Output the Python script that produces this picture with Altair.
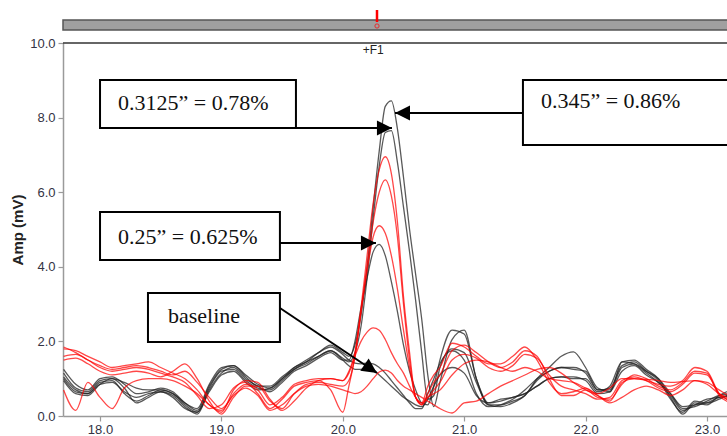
import altair as alt
import pandas as pd

# ---- shared time grid (s) ----
T = [17.7, 17.8, 17.9, 18.0, 18.1, 18.2, 18.3, 18.4, 18.5, 18.6, 18.7, 18.8,
     18.9, 19.0, 19.1, 19.2, 19.3, 19.4, 19.5, 19.6, 19.7, 19.8, 19.9, 20.0,
     20.05, 20.1, 20.15, 20.2, 20.25, 20.3, 20.35, 20.4, 20.45, 20.5, 20.55, 20.6,
     20.65, 20.7, 20.75, 20.8,
     20.9, 21.0, 21.1, 21.2, 21.3, 21.4, 21.5, 21.6, 21.7, 21.8, 21.9, 22.0,
     22.1, 22.2, 22.3, 22.4, 22.5, 22.6, 22.7, 22.8, 22.9, 23.0, 23.1, 23.2]

# ---- black traces (mV) ----
B1 = [1.25, 0.85, 0.7, 1.0, 1.05, 0.85, 0.6, 0.65, 0.75, 0.65, 0.35, 0.2,
      0.85, 1.3, 1.35, 1.1, 0.85, 0.75, 1.0, 1.3, 1.45, 1.7, 1.9, 1.7,
      1.6, 1.9, 2.7, 4.0, 5.6, 7.1, 8.3, 8.45, 7.7, 6.4, 5.0, 3.8, 2.6, 1.1, 0.25, 0.9,
      2.05, 2.3, 1.0, 0.3, 0.3, 0.4, 0.55, 1.0, 1.3, 1.6, 1.72, 1.3,
      0.75, 0.65, 1.45, 1.5, 1.25, 1.0, 0.5, 0.05, 0.35, 0.3, 0.55, 0.7]
B2 = [1.05, 0.7, 0.6, 0.9, 0.95, 0.6, 0.4, 0.55, 0.7, 0.6, 0.3, 0.1,
      0.75, 1.2, 1.25, 0.95, 0.75, 0.7, 0.95, 1.25, 1.4, 1.6, 1.75, 1.55,
      1.45, 1.7, 2.4, 3.7, 5.3, 6.7, 7.6, 7.65, 6.8, 5.6, 4.4, 3.1, 1.7, 0.45, 0.55, 1.3,
      1.8, 1.7, 0.9, 0.3, 0.25, 0.35, 0.55, 0.95, 1.2, 1.3, 1.25, 1.2,
      0.7, 0.75, 1.35, 1.45, 1.2, 0.95, 0.45, 0.1, 0.4, 0.35, 0.45, 0.6]
B3 = [0.95, 0.6, 0.55, 0.85, 1.0, 0.75, 0.35, 0.5, 0.65, 0.55, 0.25, 0.05,
      0.7, 1.15, 1.3, 1.0, 0.8, 0.65, 0.9, 1.2, 1.35, 1.55, 1.7, 1.5,
      1.5, 2.0, 2.9, 3.7, 4.4, 4.6, 4.3, 3.6, 2.8, 1.9, 1.2, 0.7, 0.35, 0.3, 0.8, 1.5,
      2.3, 2.2, 1.0, 0.35, 0.45, 0.5, 0.6, 0.8, 1.0, 1.05, 1.0, 1.0,
      0.65, 0.8, 1.45, 1.4, 1.15, 0.9, 0.55, 0.15, 0.3, 0.45, 0.5, 0.55]
B4 = [1.15, 0.75, 0.65, 0.95, 1.0, 0.9, 0.75, 0.7, 0.7, 0.6, 0.35, 0.15,
      0.8, 1.25, 1.35, 1.05, 0.8, 0.8, 1.05, 1.3, 1.5, 1.7, 1.85, 1.65,
      1.5, 1.42, 1.4, 1.42, 1.4, 1.3, 1.15, 0.95, 0.75, 0.55, 0.35, 0.2, 0.2, 0.6, 1.0, 1.4,
      1.75, 1.5, 0.6, 0.25, 0.3, 0.45, 0.7, 1.0, 1.2, 1.3, 1.3, 1.15,
      0.7, 0.7, 1.3, 1.4, 1.2, 1.0, 0.6, 0.2, 0.25, 0.4, 0.55, 0.6]
B5 = [1.0, 0.65, 0.6, 0.85, 0.9, 0.65, 0.5, 0.6, 0.65, 0.5, 0.2, 0.1,
      0.65, 1.1, 1.2, 0.9, 0.7, 0.75, 1.0, 1.25, 1.45, 1.6, 1.75, 1.5,
      1.35, 1.25, 1.25, 1.3, 1.25, 1.1, 0.95, 0.8, 0.65, 0.5, 0.4, 0.3, 0.25, 0.45, 0.8, 1.1,
      1.3, 1.15, 0.55, 0.35, 0.4, 0.5, 0.6, 0.8, 1.0, 1.05, 1.05, 0.95,
      0.6, 0.65, 1.2, 1.35, 1.1, 0.9, 0.6, 0.25, 0.3, 0.35, 0.5, 0.55]

# ---- red traces (mV) ----
R1 = [1.8, 1.75, 1.6, 1.45, 1.3, 1.35, 1.4, 1.45, 1.3, 1.15, 1.0, 0.7,
      0.3, 0.15, 0.6, 0.85, 0.7, 0.3, 0.5, 0.85, 0.95, 1.0, 1.0, 0.95,
      1.2, 1.7, 2.9, 4.3, 5.7, 6.6, 6.95, 6.5, 5.2, 3.2, 1.7, 0.5, 0.35, 0.8, 1.1, 1.3,
      1.95, 1.85, 1.6, 1.4, 1.4, 1.6, 1.85, 1.5, 0.9, 0.6, 0.65, 0.75,
      0.55, 0.4, 0.9, 1.0, 0.95, 0.85, 0.8, 0.95, 1.3, 1.2, 0.6, 0.4]
R2 = [1.6, 1.65, 1.5, 1.3, 1.2, 1.25, 1.3, 1.25, 1.15, 1.05, 0.9, 0.55,
      0.2, 0.3, 0.75, 0.9, 0.6, 0.2, 0.45, 0.8, 0.9, 0.95, 0.7, 0.1,
      0.8, 1.6, 2.8, 4.0, 5.2, 6.0, 6.33, 5.9, 4.8, 3.0, 1.5, 0.5, 0.3, 0.6, 0.9, 1.1,
      1.75, 1.9, 1.7, 1.45, 1.3, 1.45, 1.75, 1.6, 1.0, 0.55, 0.55, 0.7,
      0.5, 0.45, 0.85, 1.1, 1.0, 0.8, 0.7, 0.9, 1.2, 1.15, 0.55, 0.35]
R3 = [1.5, 1.55, 1.4, 1.2, 1.1, 1.15, 1.2, 1.15, 1.05, 1.2, 1.4, 1.0,
      0.4, 0.05, 0.5, 0.8, 0.8, 0.4, 0.2, 0.6, 0.85, 0.9, 0.85, 0.8,
      0.95, 1.6, 2.8, 3.9, 4.8, 5.1, 4.9, 4.3, 3.4, 2.3, 1.3, 0.5, 0.3, 0.5, 0.7, 0.9,
      1.5, 1.65, 1.55, 1.3, 1.2, 1.35, 1.65, 1.55, 1.1, 0.8, 0.7, 0.6,
      0.45, 0.5, 0.95, 1.05, 0.95, 0.75, 0.65, 0.85, 1.15, 1.1, 0.6, 0.4]
R4 = [0.7, 0.15, 0.9, 0.5, 0.2, 0.75, 0.95, 1.0, 1.0, 0.95, 0.8, 0.6,
      0.3, 0.1, 0.7, 0.95, 0.9, 0.45, 0.15, 0.4, 0.75, 0.95, 1.0, 0.95,
      1.15, 1.6, 2.0, 2.25, 2.36, 2.3, 2.05, 1.7, 1.4, 1.15, 0.8, 0.5, 0.35, 0.5, 0.6, 0.7,
      1.1, 1.4, 1.5, 1.45, 1.3, 1.2, 1.3, 1.2, 1.0, 0.95, 0.9, 0.75,
      0.6, 0.75, 1.0, 1.0, 0.98, 0.95, 0.9, 0.92, 0.95, 0.9, 0.7, 0.5]
R5 = [1.85, 1.7, 1.5, 1.35, 1.25, 1.3, 1.35, 1.3, 1.2, 1.1, 1.2, 0.9,
      0.5, 0.2, 0.55, 0.75, 0.55, 0.15, 0.3, 0.6, 0.8, 0.85, 0.8, 0.7,
      0.65, 0.6, 0.65, 0.8, 1.0, 1.18, 1.23, 1.15, 0.95, 0.8, 0.7, 0.6, 0.5, 0.4, 0.3, 0.2,
      0.08, 0.35, 0.4, 0.6, 0.8, 0.95, 1.1, 1.25, 1.3, 1.15, 0.9, 0.7,
      0.55, 0.35, 0.5, 0.7, 0.8, 0.7, 0.55, 0.7, 0.95, 0.85, 0.6, 0.45]

TRACES = {"B1": ("black", B1), "B2": ("black", B2), "B3": ("black", B3),
          "B4": ("black", B4), "B5": ("black", B5),
          "R1": ("red", R1), "R2": ("red", R2), "R3": ("red", R3),
          "R4": ("red", R4), "R5": ("red", R5)}

# ---- annotations (data units) ----
BOX_LABELS = ["0.3125\u201d = 0.78%", "0.345\u201d = 0.86%", "0.25\u201d = 0.625%", "baseline"]
BOX_X1 = [18.0, 21.484, 18.0, 18.395]
BOX_X2 = [19.614, 23.2, 19.482, 19.482]
BOX_Y1 = [7.721, 7.265, 4.182, 1.984]
BOX_Y2 = [9.008, 9.008, 5.469, 3.298]
TXT_X = [18.148, 21.632, 18.148, 18.56]
TXT_Y = [8.204, 8.257, 4.611, 2.493]
ARR_X1 = [19.614, 21.484, 19.482, 19.482]
ARR_Y1 = [7.721, 8.123, 4.638, 2.895]
ARR_X2 = [20.405, 20.43, 20.273, 20.281]
ARR_Y2 = [7.721, 8.123, 4.638, 1.153]
ARR_ANG = [0, 180, 0, 34]

rows = []
for name, (grp, vals) in TRACES.items():
    for t, v in zip(T, vals):
        rows.append({"t": t, "v": v, "trace": name, "grp": grp})
df = pd.DataFrame(rows)

xscale = alt.Scale(domain=[17.695, 23.165], nice=False, zero=False)
yscale = alt.Scale(domain=[0, 10], nice=False, zero=True)
FONT = "Liberation Sans"

lines = alt.Chart(df).mark_line(interpolate="monotone", clip=True, strokeWidth=1.3).encode(
    x=alt.X("t:Q", scale=xscale,
            axis=alt.Axis(values=[18, 19, 20, 21, 22, 23], format=".1f", title=None,
                          grid=False, domainColor="#9a9a9a", domainWidth=1.5,
                          tickColor="#9a9a9a", tickSize=5, tickWidth=1.2,
                          labelFont=FONT, labelFontSize=13, labelColor="#333344",
                          labelPadding=2)),
    y=alt.Y("v:Q", scale=yscale,
            axis=alt.Axis(values=[0, 2, 4, 6, 8, 10], format=".1f", title="Amp (mV)",
                          grid=False, domainColor="#9a9a9a", domainWidth=1.5,
                          tickColor="#9a9a9a", tickSize=5, tickWidth=1.2,
                          labelFont=FONT, labelFontSize=13, labelColor="#333344",
                          labelPadding=3, titleFont=FONT, titleFontSize=15,
                          titleFontWeight="bold", titleColor="#222222",
                          titlePadding=4)),
    detail="trace:N",
    color=alt.Color("grp:N", scale=alt.Scale(domain=["black", "red"],
                                             range=["#222222", "#ff0000"]), legend=None),
    opacity=alt.Opacity("grp:N", scale=alt.Scale(domain=["black", "red"],
                                                 range=[0.75, 0.72]), legend=None),
    order="t:Q",
)

boxes_df = pd.DataFrame({"x1": BOX_X1, "x2": BOX_X2, "y1": BOX_Y1, "y2": BOX_Y2})
boxes = alt.Chart(boxes_df).mark_rect(fill="white", stroke="black", strokeWidth=2).encode(
    x=alt.X("x1:Q", scale=xscale), x2="x2:Q",
    y=alt.Y("y1:Q", scale=yscale), y2="y2:Q")

txt_df = pd.DataFrame({"x": TXT_X, "y": TXT_Y, "label": BOX_LABELS})
texts = alt.Chart(txt_df).mark_text(font="Liberation Serif", fontSize=22, align="left",
                                    baseline="alphabetic", color="#111111").encode(
    x=alt.X("x:Q", scale=xscale), y=alt.Y("y:Q", scale=yscale), text="label:N")

arr_df = pd.DataFrame({"x1": ARR_X1, "y1": ARR_Y1, "x2": ARR_X2, "y2": ARR_Y2, "ang": ARR_ANG})
arr_lines = alt.Chart(arr_df).mark_rule(color="black", strokeWidth=2).encode(
    x=alt.X("x1:Q", scale=xscale), y=alt.Y("y1:Q", scale=yscale), x2="x2:Q", y2="y2:Q")
heads = alt.Chart(arr_df).mark_point(shape="M0,0L-1,-0.5L-1,0.5Z", filled=True,
                                     color="black", opacity=1, size=900).encode(
    x=alt.X("x2:Q", scale=xscale), y=alt.Y("y2:Q", scale=yscale),
    angle=alt.Angle("ang:Q", scale=None))

one = pd.DataFrame({"a": [0]})
top_line = alt.Chart(one).mark_rule(color="#333333", strokeWidth=1.5).encode(
    x=alt.value(0), x2=alt.value(664), y=alt.value(0))
bar = alt.Chart(one).mark_rect(fill="#a0a0a0", stroke="#555555", strokeWidth=1.5).encode(
    x=alt.value(0), x2=alt.value(666), y=alt.value(-23), y2=alt.value(-13))
marker = alt.Chart(one).mark_rule(color="#ff0000", strokeWidth=2.5).encode(
    x=alt.value(314), y=alt.value(-33), y2=alt.value(-21))
marker_o = alt.Chart(one).mark_point(color="#ff0000", size=18, strokeWidth=1, filled=False).encode(
    x=alt.value(314), y=alt.value(-17))
f1 = alt.Chart(pd.DataFrame({"x": [20.25], "y": [9.81], "s": ["+F1"]})).mark_text(
    font=FONT, fontSize=12, color="#222222", align="center", baseline="middle").encode(
    x=alt.X("x:Q", scale=xscale), y=alt.Y("y:Q", scale=yscale), text="s:N")

chart = alt.layer(lines, boxes, texts, arr_lines, heads, top_line, bar, marker, marker_o, f1).properties(
    width=664, height=373,
    padding={"left": 63, "top": 43, "right": 0, "bottom": 20},
    autosize=alt.AutoSizeParams(type="none"),
    background="white",
).configure_view(stroke=None)

chart.save("out.html", embed_options={"renderer": "svg", "actions": False})
